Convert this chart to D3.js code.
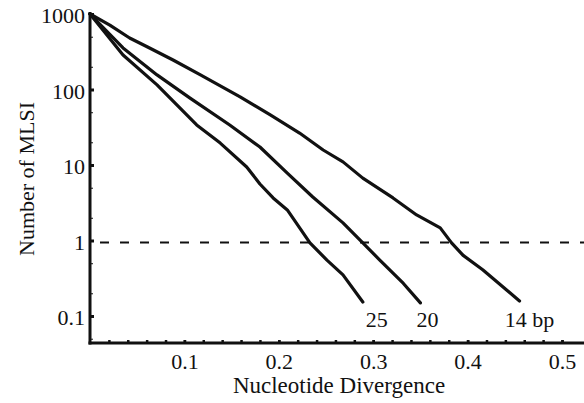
<!DOCTYPE html>
<html>
<head>
<meta charset="utf-8">
<script src="https://cdn.jsdelivr.net/npm/d3@7"></script>
<style>
  html, body { margin: 0; padding: 0; background: #fff; }
  svg { display: block; }
  svg text { font-family: "Liberation Serif", "DejaVu Serif", serif; }
</style>
</head>
<body>
<svg id="chart" width="584" height="403"></svg>
<script>
// Nucleotide divergence (x) and number of MLSI (y) for each minimum length
const div14 = [0, 0.021, 0.042, 0.061, 0.088, 0.117, 0.159, 0.191, 0.222, 0.247, 0.268, 0.289, 0.321, 0.346, 0.371, 0.383, 0.395, 0.416, 0.455];
const mlsi14 = [1000, 714, 481, 366, 246, 156, 80, 46, 26.5, 15.8, 11, 6.7, 3.66, 2.18, 1.47, 0.93, 0.64, 0.41, 0.158];

const div20 = [0, 0.035, 0.071, 0.106, 0.148, 0.18, 0.209, 0.236, 0.268, 0.289, 0.307, 0.332, 0.35];
const mlsi20 = [1000, 355, 156, 77, 33.9, 17.3, 7.8, 3.77, 1.71, 0.93, 0.55, 0.27, 0.149];

const div25 = [0, 0.035, 0.071, 0.113, 0.138, 0.166, 0.18, 0.194, 0.209, 0.233, 0.251, 0.268, 0.289];
const mlsi25 = [1000, 286, 115, 33.9, 19.5, 9.4, 5.6, 3.66, 2.54, 0.93, 0.55, 0.35, 0.153];

const seriesLabels = ["14 bp", "20", "25"];
const xTicks = [0.1, 0.2, 0.3, 0.4, 0.5];
const xMinorTicks = d3.range(0.02, 0.52, 0.02);
const yTicks = [0.1, 1, 10, 100, 1000];
const yMinorTicks = [0.05, 0.2, 0.5, 2, 5, 20, 50, 200, 500];
const threshold = 1;

const svg = d3.select("#chart");
const x = d3.scaleLinear().domain([0, 0.5]).range([90, 562]);
const y = d3.scaleLog().domain([0.1, 1000]).range([316, 14]);
const axisY = 343;
const axisX = 90;
const ink = "#111";

const styleAxis = (g, width) => {
  g.attr("font-family", null).attr("font-size", null);
  g.select(".domain").remove();
  g.selectAll(".tick line").attr("stroke", ink).attr("stroke-width", width);
  g.selectAll(".tick text").attr("font-size", 22).attr("fill", ink);
};

// y axis
svg.append("g").attr("transform", `translate(${axisX},0)`)
  .call(d3.axisLeft(y).tickValues(yMinorTicks).tickSize(-3).tickFormat(""))
  .call((g) => styleAxis(g, 1));

svg.append("g").attr("transform", `translate(${axisX},0)`)
  .call(d3.axisLeft(y).tickValues(yTicks).tickSize(-4).tickPadding(5).tickFormat((d) => String(d)))
  .call((g) => styleAxis(g, 3))
  .call((g) => g.selectAll(".tick text").attr("dy", "0.4em"));

// x axis
svg.append("g").attr("transform", `translate(0,${axisY})`)
  .call(d3.axisBottom(x).tickValues(xMinorTicks).tickSize(-3).tickFormat(""))
  .call((g) => styleAxis(g, 2.5));

svg.append("g").attr("transform", `translate(0,${axisY})`)
  .call(d3.axisBottom(x).tickValues(xTicks).tickSize(-3).tickPadding(10).tickFormat(d3.format(".1f")))
  .call((g) => styleAxis(g, 2.5));

svg.append("line").attr("x1", axisX).attr("x2", axisX).attr("y1", 12).attr("y2", axisY + 1.5)
  .attr("stroke", ink).attr("stroke-width", 3);
svg.append("line").attr("x1", axisX - 1.5).attr("x2", 584).attr("y1", axisY).attr("y2", axisY)
  .attr("stroke", ink).attr("stroke-width", 3);

// threshold line at 1 MLSI
svg.append("line")
  .attr("x1", 100).attr("x2", 584)
  .attr("y1", y(threshold) + 2).attr("y2", y(threshold) + 2)
  .attr("stroke", ink).attr("stroke-width", 2).attr("stroke-dasharray", "9,11");

// curves
const line = d3.line().x((d) => x(d[0])).y((d) => y(d[1]));
const series = [
  [div14, mlsi14],
  [div20, mlsi20],
  [div25, mlsi25]
];
const labelDx = [10, 7, 14];

series.forEach(([xs, ys], i) => {
  const pts = xs.map((v, j) => [v, ys[j]]);
  svg.append("path")
    .datum(pts)
    .attr("d", line)
    .attr("fill", "none")
    .attr("stroke", ink)
    .attr("stroke-width", 3.2)
    .attr("stroke-linejoin", "round")
    .attr("stroke-linecap", "round");

  const last = pts[pts.length - 1];
  svg.append("text")
    .attr("x", x(last[0]) + labelDx[i])
    .attr("y", 327)
    .attr("text-anchor", "middle")
    .attr("font-size", 22)
    .attr("fill", ink)
    .text(seriesLabels[i]);
});

// axis titles
svg.append("text")
  .attr("x", 339).attr("y", 393)
  .attr("text-anchor", "middle")
  .attr("font-size", 23)
  .attr("fill", ink)
  .text("Nucleotide Divergence");

svg.append("text")
  .attr("transform", "translate(34,179) rotate(-90)")
  .attr("text-anchor", "middle")
  .attr("font-size", 22)
  .attr("fill", ink)
  .text("Number of MLSI");
</script>
</body>
</html>
